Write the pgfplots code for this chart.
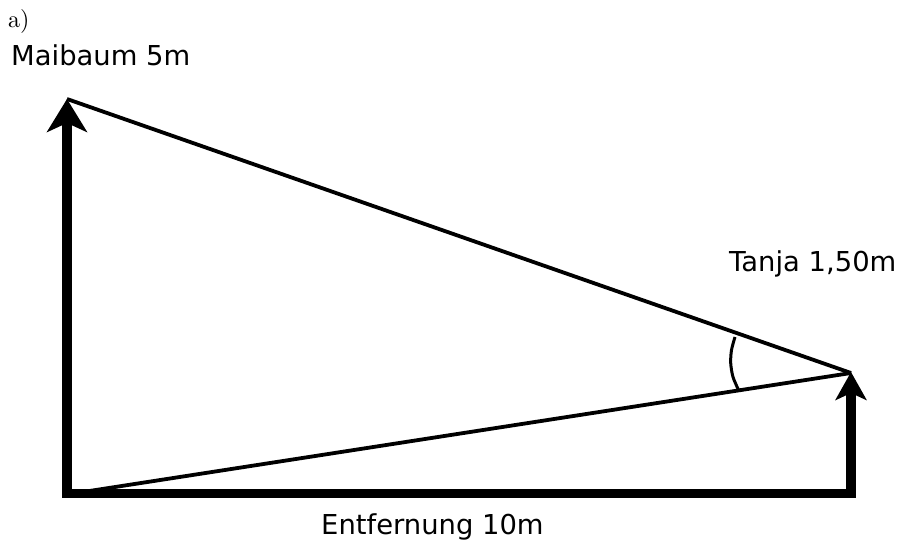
\documentclass[border=0pt]{standalone}
\usepackage{fontspec}
\usepackage{pgfplots}
\pgfplotsset{compat=1.18}
\usetikzlibrary{arrows.meta}
\newfontfamily\dv{DejaVu Sans}
\begin{document}
\begin{tikzpicture}
\useasboundingbox (0,0) rectangle (902pt,546pt);
\begin{axis}[
  at={(0,0)}, anchor=south west,
  scale only axis, width=902pt, height=546pt,
  xmin=0, xmax=902, ymin=0, ymax=546,
  hide axis, clip=false
]
% bottom line (distance)
\addplot[black, line width=9pt] coordinates {(62,52.5) (856,52.5)};
% maypole
\addplot[black, line width=10pt, -{Stealth[length=33pt, width=40pt, inset=9pt]}] coordinates {(67,48) (67,447)};
% Tanja
\addplot[black, line width=10pt, -{Stealth[length=28pt, width=31pt, inset=7pt]}] coordinates {(851,48) (851,174)};
% sight lines
\addplot[black, line width=3.8pt] coordinates {(67,447) (851,173)};
\addplot[black, line width=3.8pt] coordinates {(70,52) (851,173)};
% angle arc
\addplot[black, line width=3pt, smooth] coordinates {(735,209) (731.5,196) (730.7,183) (733,169) (739,155)};
% labels
\node[anchor=base west, inner sep=0pt, font=\normalsize] at (axis cs:8,518) {\scalebox{2.4}{a)}};
\node[anchor=base west, inner sep=0pt, font=\dv\fontsize{27.4}{32}\selectfont] at (axis cs:11,480) {Maibaum 5m};
\node[anchor=base west, inner sep=0pt, font=\dv\fontsize{27.4}{32}\selectfont] at (axis cs:729,274) {Tanja 1,50m};
\node[anchor=base west, inner sep=0pt, font=\dv\fontsize{27.4}{32}\selectfont] at (axis cs:321,11) {Entfernung 10m};
\end{axis}
\end{tikzpicture}
\end{document}
